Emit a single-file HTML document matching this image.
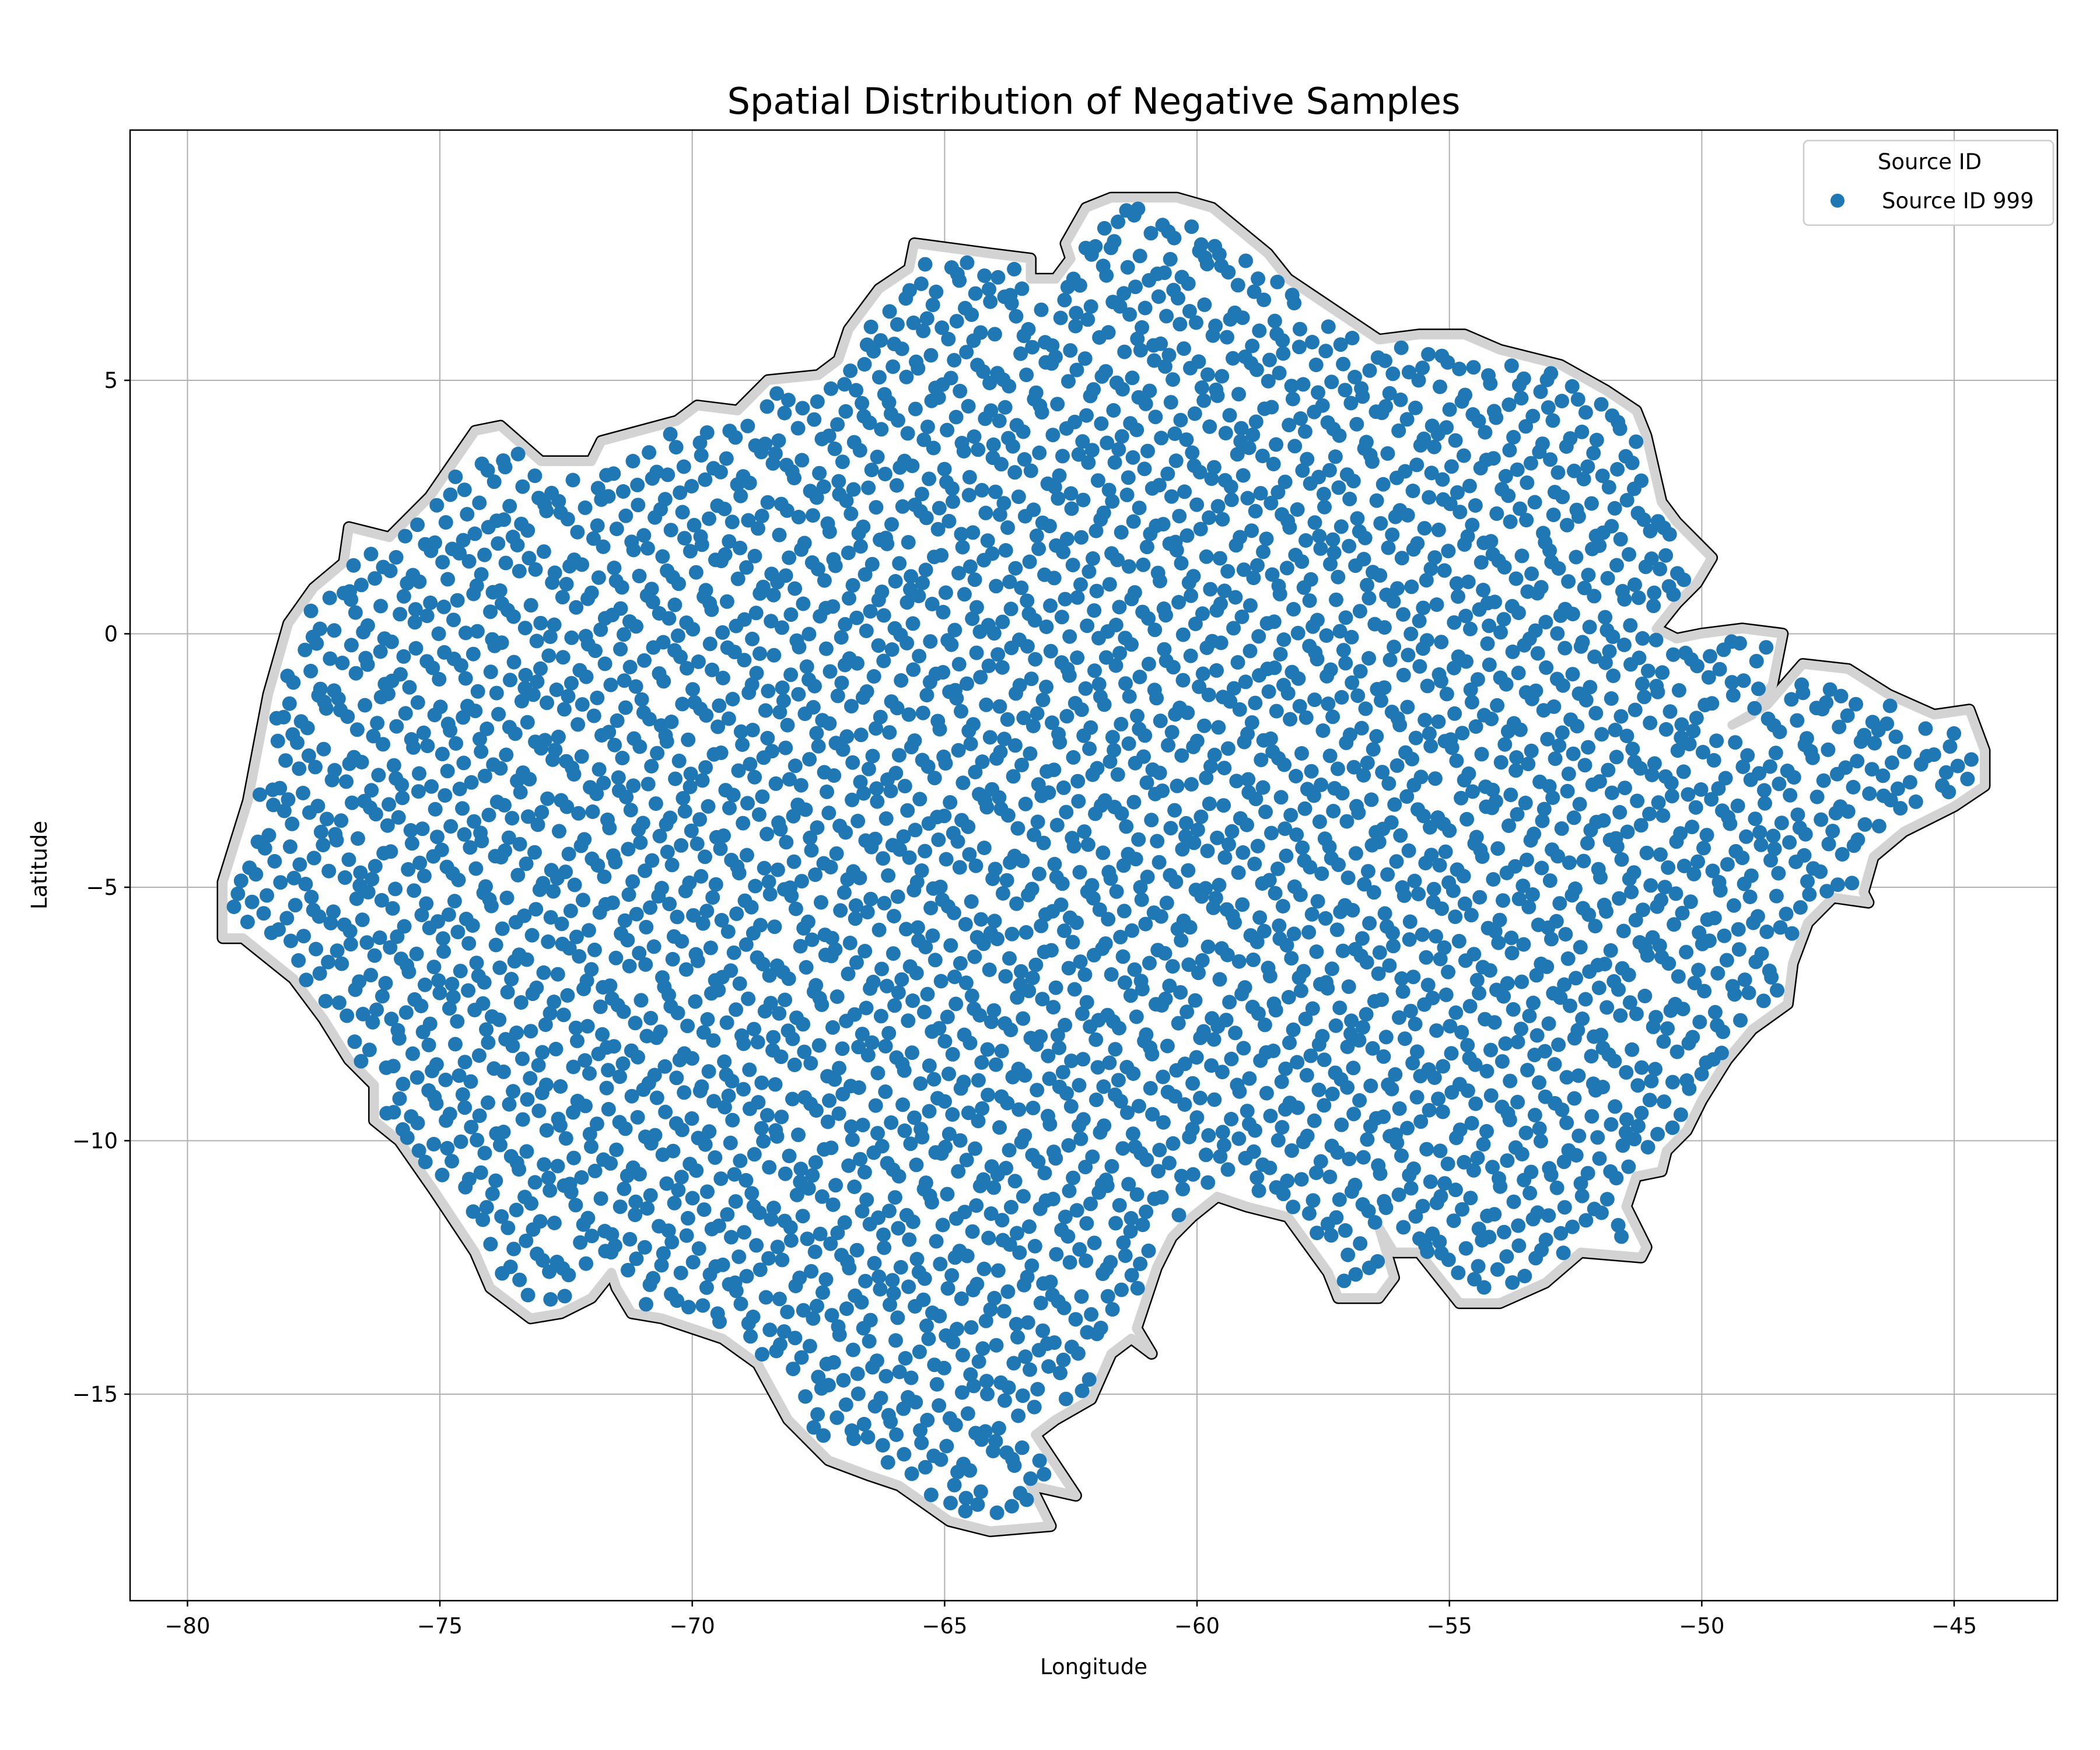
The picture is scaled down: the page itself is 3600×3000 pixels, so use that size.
<!DOCTYPE html>
<html><head><meta charset="utf-8"><style>
html,body{margin:0;padding:0;background:#fff}
svg{display:block;font-family:"DejaVu Sans","Liberation Sans",sans-serif}
</style></head><body>
<svg id="chart" width="3600" height="3000" viewBox="0 0 3600 3000" xmlns="http://www.w3.org/2000/svg">
<rect x="0" y="0" width="3600" height="3000" fill="#fff"/>
<g id="grid"></g>
<g id="outline"></g>
<g id="pts"></g>
<rect x="223" y="223" width="3304" height="2521" fill="none" stroke="#000" stroke-width="2.5"/>
<g id="ticks"></g>
<text x="1875" y="195" font-size="62" text-anchor="middle">Spatial Distribution of Negative Samples</text>
<text x="1875" y="2870" font-size="37" text-anchor="middle">Longitude</text>
<text x="80" y="1483" font-size="37" text-anchor="middle" transform="rotate(-90 80 1483)">Latitude</text>
<g>
<rect x="3092" y="241" width="428" height="145" rx="8" fill="#fff" fill-opacity="0.85" stroke="#ccc" stroke-width="2.5"/>
<text x="3308" y="290" font-size="37" text-anchor="middle">Source ID</text>
<circle cx="3150" cy="344" r="12" fill="#1f77b4"/>
<text x="3226" y="357" font-size="37">Source ID 999</text>
</g>
</svg>
<script>
const xTicks=[-80,-75,-70,-65,-60,-55,-50,-45];
const yTicks=[5,0,-5,-10,-15];
const boundaryLon=[-79.3,-78.8,-78.4,-78.0,-77.5,-76.9,-76.8,-76.0,-75.2,-74.3,-73.8,-73.0,-72.0,-71.8,-70.3,-69.9,-69.1,-68.5,-67.5,-67.1,-66.9,-66.3,-65.7,-65.6,-64.1,-63.3,-63.3,-62.8,-62.5,-62.6,-62.2,-61.7,-60.4,-59.7,-58.6,-58.2,-57.6,-56.4,-55.6,-54.7,-54.0,-52.8,-51.9,-51.3,-51.1,-50.8,-50.5,-49.8,-50.1,-50.5,-50.9,-50.5,-50.0,-49.2,-48.4,-48.6,-49.0,-49.4,-48.7,-48.0,-47.1,-46.3,-45.4,-44.7,-44.4,-44.4,-45.0,-46.0,-46.6,-46.8,-46.7,-47.4,-47.9,-48.2,-48.3,-49.0,-49.5,-50.0,-50.3,-50.7,-50.8,-51.3,-51.5,-51.1,-51.2,-52.4,-53.1,-54.0,-54.8,-55.6,-56.1,-56.4,-56.1,-56.4,-57.2,-57.4,-58.2,-59.0,-59.6,-60.1,-60.5,-60.8,-61.2,-60.9,-61.3,-61.7,-62.1,-62.8,-63.2,-62.4,-63.3,-62.9,-64.1,-64.9,-65.9,-66.5,-67.3,-68.1,-68.7,-69.4,-70.6,-71.2,-71.5,-71.6,-72.0,-72.6,-73.2,-74.0,-74.3,-75.1,-75.8,-76.3,-76.3,-76.8,-77.3,-77.9,-78.4,-78.9,-79.3];
const boundaryLat=[-4.9,-3.3,-1.2,0.2,0.9,1.4,2.1,1.9,2.7,4.0,4.1,3.4,3.4,3.8,4.2,4.5,4.4,5.0,5.1,5.4,6.0,6.8,7.2,7.7,7.5,7.4,7.0,7.0,7.4,7.7,8.4,8.6,8.6,8.4,7.5,7.0,6.6,5.8,5.9,5.9,5.6,5.3,4.8,4.4,3.9,2.6,2.2,1.5,1.0,0.6,0.1,-0.1,0.0,0.1,0.0,-1.0,-1.6,-1.8,-1.4,-0.6,-0.7,-1.2,-1.6,-1.5,-2.3,-3.0,-3.4,-3.9,-4.4,-5.1,-5.3,-5.2,-5.7,-6.5,-7.3,-7.8,-8.4,-9.2,-9.8,-10.2,-10.6,-10.7,-11.3,-12.1,-12.3,-12.2,-12.8,-13.2,-13.2,-12.2,-12.2,-11.7,-12.7,-13.1,-13.1,-12.6,-11.5,-11.3,-11.1,-11.5,-11.9,-12.5,-13.7,-14.2,-13.9,-14.2,-15.1,-15.5,-15.8,-17.0,-16.8,-17.6,-17.7,-17.5,-16.8,-16.6,-16.3,-15.5,-14.4,-13.9,-13.5,-13.4,-12.9,-12.6,-13.1,-13.4,-13.5,-12.9,-12.2,-11.0,-10.0,-9.6,-8.9,-8.4,-7.6,-6.8,-6.4,-6.0,-6.0];
const sampleCount=4000;
const sourceId=999;

const NS='http://www.w3.org/2000/svg';
function X(lon){return 321.4+(lon+80)*(3350-321.4)/35;}
function Y(lat){return 652+(5-lat)*(2390-652)/20;}
function mk(tag,attrs,parent){const e=document.createElementNS(NS,tag);for(const k in attrs)e.setAttribute(k,attrs[k]);parent.appendChild(e);return e;}

const grid=document.getElementById('grid'),ticks=document.getElementById('ticks');
xTicks.forEach(v=>{
  const g=mk('line',{x1:X(v),x2:X(v),y1:223,y2:2744,stroke:'#b0b0b0','stroke-width':2},grid);
  
  
  const t=mk('line',{x1:X(v),x2:X(v),y1:2744,y2:2754,stroke:'#000','stroke-width':2.5},ticks);
  
  
  const l=mk('text',{x:X(v),y:2800,'font-size':37,'text-anchor':'middle'},ticks);
  l.textContent=(v<0?'\u2212'+(-v):v);
  
  
});
yTicks.forEach(v=>{
  const g=mk('line',{x1:223,x2:3527,y1:Y(v),y2:Y(v),stroke:'#b0b0b0','stroke-width':2},grid);
  
  
  const t=mk('line',{x1:213,x2:223,y1:Y(v),y2:Y(v),stroke:'#000','stroke-width':2.5},ticks);
  
  
  const l=mk('text',{x:202,y:Y(v)+13,'font-size':37,'text-anchor':'end'},ticks);
  l.textContent=(v<0?'\u2212'+(-v):v);
  
  
});

let d='';
boundaryLon.forEach((lon,i)=>{d+=(i?'L':'M')+X(lon).toFixed(1)+' '+Y(boundaryLat[i]).toFixed(1);});
d+='Z';
const outline=document.getElementById('outline');
const o1=mk('path',{d:d,fill:'none',stroke:'#000','stroke-width':21,'stroke-linejoin':'round'},outline);


const o2=mk('path',{d:d,fill:'#fff',stroke:'#d3d3d3','stroke-width':16,'stroke-linejoin':'round'},outline);



function inside(lon,lat){let c=false;const n=boundaryLon.length;for(let i=0,j=n-1;i<n;j=i++){const xi=boundaryLon[i],yi=boundaryLat[i],xj=boundaryLon[j],yj=boundaryLat[j];if(((yi>lat)!=(yj>lat))&&(lon<(xj-xi)*(lat-yi)/(yj-yi)+xi))c=!c;}return c;}
function halton(i,b){let f=1,r=0;while(i>0){f/=b;r+=f*(i%b);i=Math.floor(i/b);}return r;}
const minLon=Math.min(...boundaryLon),maxLon=Math.max(...boundaryLon),minLat=Math.min(...boundaryLat),maxLat=Math.max(...boundaryLat);
const sampleLon=[],sampleLat=[];
for(let i=1;sampleLon.length<sampleCount&&i<100000;i++){
  const lon=minLon+halton(i,2)*(maxLon-minLon),lat=minLat+halton(i,3)*(maxLat-minLat);
  if(inside(lon,lat)&&inside(lon+0.2,lat)&&inside(lon-0.2,lat)&&inside(lon,lat+0.2)&&inside(lon,lat-0.2)){sampleLon.push(lon);sampleLat.push(lat);}
}
const pts=document.getElementById('pts');
sampleLon.forEach((lon,i)=>{
  const c=mk('circle',{cx:X(lon).toFixed(1),cy:Y(sampleLat[i]).toFixed(1),r:12.5,fill:'#1f77b4'},pts);
  
  
});
</script>
</body></html>
